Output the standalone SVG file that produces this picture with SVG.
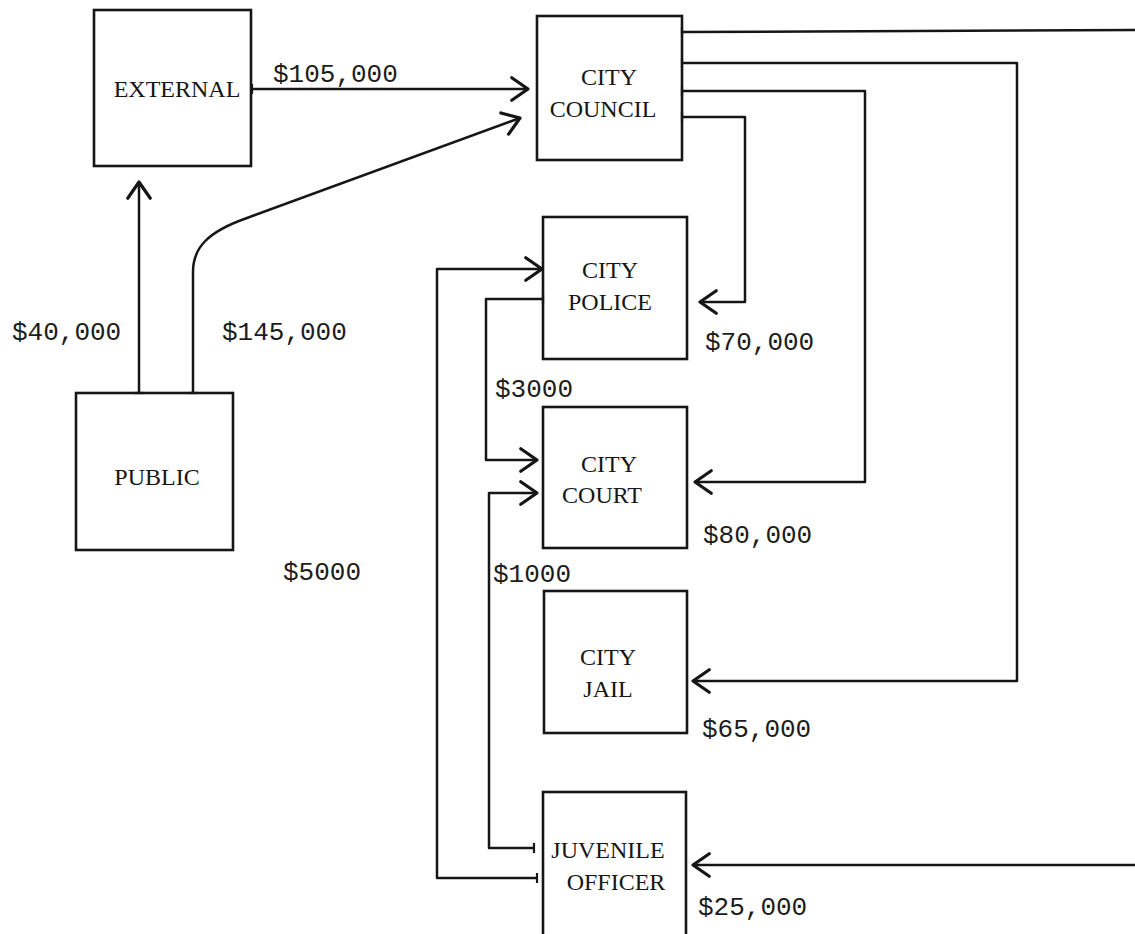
<svg xmlns="http://www.w3.org/2000/svg" width="1135" height="934" viewBox="0 0 1135 934">
<style>
.box{fill:none;stroke:#161616;stroke-width:2.6}
.lbl{font-family:"Liberation Serif",serif;font-size:24px;fill:#161616;text-anchor:middle}
.amt{font-family:"Liberation Mono",monospace;font-size:26px;fill:#1c1c1c}
.edge{fill:none;stroke:#161616;stroke-width:2.5;stroke-linejoin:round}
</style>
<defs>
<marker id="arr" markerUnits="userSpaceOnUse" markerWidth="30" markerHeight="30" refX="0" refY="0" viewBox="-16 -12 20 24" orient="auto">
<path d="M-13,-9 L0,0 L-13,9" fill="none" stroke="#161616" stroke-width="2.6" stroke-linecap="round" stroke-linejoin="round"/>
</marker>
<marker id="tick" markerUnits="userSpaceOnUse" markerWidth="12" markerHeight="16" refX="0" refY="0" viewBox="-3 -8 6 16" orient="auto">
<path d="M0,-5 L0,5" stroke="#161616" stroke-width="2.2"/>
</marker>
</defs>
<rect width="1135" height="934" fill="#fff"/>
<g id="external"><rect class="box" x="94" y="10" width="157" height="156"/><text class="lbl" x="177" y="97">EXTERNAL</text></g>
<g id="council"><rect class="box" x="537" y="16" width="145" height="144"/><text class="lbl" x="609" y="85">CITY</text><text class="lbl" x="603" y="117">COUNCIL</text></g>
<g id="public"><rect class="box" x="76" y="393" width="157" height="157"/><text class="lbl" x="157" y="485">PUBLIC</text></g>
<g id="police"><rect class="box" x="543" y="217" width="144" height="142"/><text class="lbl" x="610" y="278">CITY</text><text class="lbl" x="610" y="310">POLICE</text></g>
<g id="court"><rect class="box" x="543" y="407" width="144" height="141"/><text class="lbl" x="609" y="472">CITY</text><text class="lbl" x="602" y="503">COURT</text></g>
<g id="jail"><rect class="box" x="544" y="591" width="143" height="142"/><text class="lbl" x="608" y="665">CITY</text><text class="lbl" x="608" y="697">JAIL</text></g>
<g id="juvenile"><rect class="box" x="543" y="792" width="143" height="160"/><text class="lbl" x="608" y="858">JUVENILE</text><text class="lbl" x="616" y="890">OFFICER</text></g>
<g id="connectors">
<path class="edge" d="M252,89 L528,89" marker-start="url(#tick)" marker-end="url(#arr)"/>
<path class="edge" d="M139,393 L139,182" marker-start="url(#tick)" marker-end="url(#arr)"/>
<path class="edge" d="M193,393 L193,272 C193,248 207,232 247,218 L520,118" marker-start="url(#tick)" marker-end="url(#arr)"/>
<path class="edge" d="M682,32 L1135,30" marker-start="url(#tick)"/>
<path class="edge" d="M1135,865 L693,865" marker-end="url(#arr)"/>
<path class="edge" d="M682,63 L1017,63 L1017,681 L693,681" marker-start="url(#tick)" marker-end="url(#arr)"/>
<path class="edge" d="M682,91 L865,91 L865,482 L695,482" marker-start="url(#tick)" marker-end="url(#arr)"/>
<path class="edge" d="M682,117 L745,117 L745,302 L700,302" marker-start="url(#tick)" marker-end="url(#arr)"/>
<path class="edge" d="M543,299 L486,299 L486,460 L537,460" marker-start="url(#tick)" marker-end="url(#arr)"/>
<path class="edge" d="M534,848 L489,848 L489,493 L537,493" marker-start="url(#tick)" marker-end="url(#arr)"/>
<path class="edge" d="M537,878 L437,878 L437,269 L542,269" marker-start="url(#tick)" marker-end="url(#arr)"/>
</g>
<g id="amounts">
<text class="amt" x="273" y="82">$105,000</text>
<text class="amt" x="12" y="340">$40,000</text>
<text class="amt" x="222" y="340">$145,000</text>
<text class="amt" x="705" y="350">$70,000</text>
<text class="amt" x="495" y="397">$3000</text>
<text class="amt" x="703" y="543">$80,000</text>
<text class="amt" x="493" y="582">$1000</text>
<text class="amt" x="283" y="580">$5000</text>
<text class="amt" x="702" y="737">$65,000</text>
<text class="amt" x="698" y="915">$25,000</text>
</g>
</svg>
